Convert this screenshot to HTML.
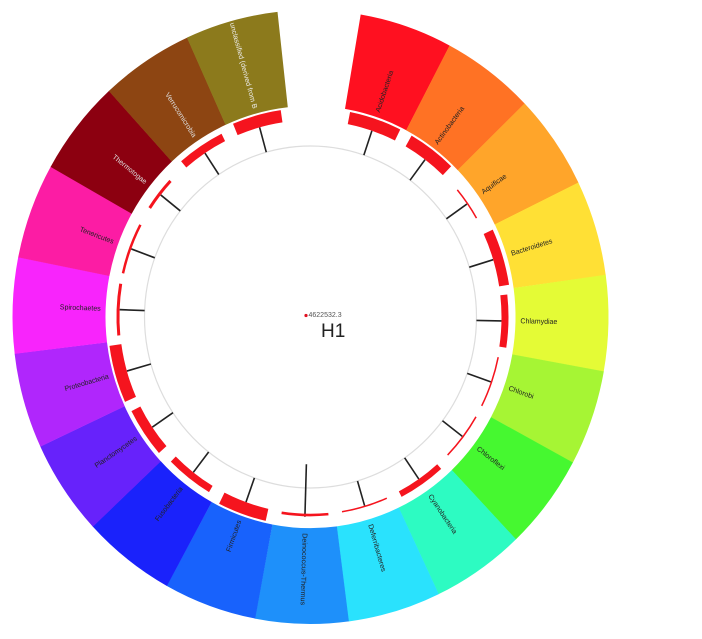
<!DOCTYPE html>
<html><head><meta charset="utf-8"><style>
html,body{margin:0;padding:0;background:#fff;}
svg{display:block;font-family:"Liberation Sans","DejaVu Sans",sans-serif;}
</style></head><body>
<svg width="702" height="639" viewBox="0 0 702 639" xmlns="http://www.w3.org/2000/svg">
<g id="s" transform="translate(0,-9.5) scale(1,1.03)">
<circle cx="310.5" cy="317" r="166" fill="none" stroke="#dddddd" stroke-width="1.2"/>
</g>
<circle cx="306" cy="315.5" r="1.6" fill="#e01020"/>
<text x="308.5" y="317" font-size="7" fill="#555">4622532.3</text>
<text x="321" y="337" font-size="19" fill="#222">H1</text>
</svg>
<script>
(function(){
var s=document.getElementById('s'),NS='http://www.w3.org/2000/svg';
var cx=310.5,cy=317,rin=205,rout=298,a0=9.7,step=18.1;
var segs=[
["Acidobacteria","#ff1020","#222",12,15],
["Actinobacteria","#ff7224","#222",12,14],
["Aquificae","#ffa52a","#222",1.5,10],
["Bacteroidetes","#ffe035","#222",10,16],
["Chlamydiae","#e4fb36","#222",7,15],
["Chlorobi","#a6f534","#222",1.5,15],
["Chloroflexi","#46f830","#222",1.5,14],
["Cyanobacteria","#2dfbc2","#222",6,14],
["Deferribacteres","#2ae2fd","#222",1.5,14],
["Deinococcus-Thermus","#1e90fa","#222",2.5,14],
["Firmicutes","#1862fc","#222",12,14],
["Fusobacteria","#1a22fb","#222",7,14],
["Planctomycetes","#6722fb","#222",10,14],
["Proteobacteria","#b026fc","#222",12,16],
["Spirochaetes","#f824fc","#222",3,15],
["Tenericutes","#fc1ca4","#222",2.5,15],
["Thermotogae","#8c0010","#ddd",3,10],
["Verrucomicrobia","#8d4512","#ddd",8,14],
["unclassified (derived from B","#8c7a1c","#eee",12,14]];
function p(r,a){var t=a*Math.PI/180;return [cx+r*Math.sin(t),cy-r*Math.cos(t)];}
function el(n,at){var e=document.createElementNS(NS,n);for(var k in at)e.setAttribute(k,at[k]);s.appendChild(e);return e;}
function f(v){return v[0].toFixed(1)+' '+v[1].toFixed(1);}
segs.forEach(function(g,i){
 var A=a0+i*step,B=A+step+0.05,C=A+step/2;
 var d='M'+f(p(rout,A))+' A'+rout+' '+rout+' 0 0 1 '+f(p(rout,B))+' L'+f(p(rin,B))+' A'+rin+' '+rin+' 0 0 0 '+f(p(rin,A))+' Z';
 el('path',{d:d,fill:g[1]});
 var r1=(i==9)?143:166,r2=(i==9)?194:191;
 var t1=p(r1,C),t2=p(r2,C);
 el('line',{x1:t1[0],y1:t1[1],x2:t2[0],y2:t2[1],stroke:'#222','stroke-width':1.6});
 var rb=191+g[3]/2,h=g[4]/2;
 el('path',{d:'M'+f(p(rb,C-h))+' A'+rb+' '+rb+' 0 0 1 '+f(p(rb,C+h)),fill:'none',stroke:'#f5141e','stroke-width':g[3]});
 var right=C<=186,lp=p(210,C),rot=right?C-90:C+90;
 var t=el('text',{x:lp[0],y:lp[1],'font-size':7,fill:g[2],'text-anchor':right?'start':'end','dominant-baseline':'middle',transform:'rotate('+rot.toFixed(2)+' '+lp[0].toFixed(1)+' '+lp[1].toFixed(1)+')'});
 t.textContent=g[0];
});
})();
</script>
</body></html>
